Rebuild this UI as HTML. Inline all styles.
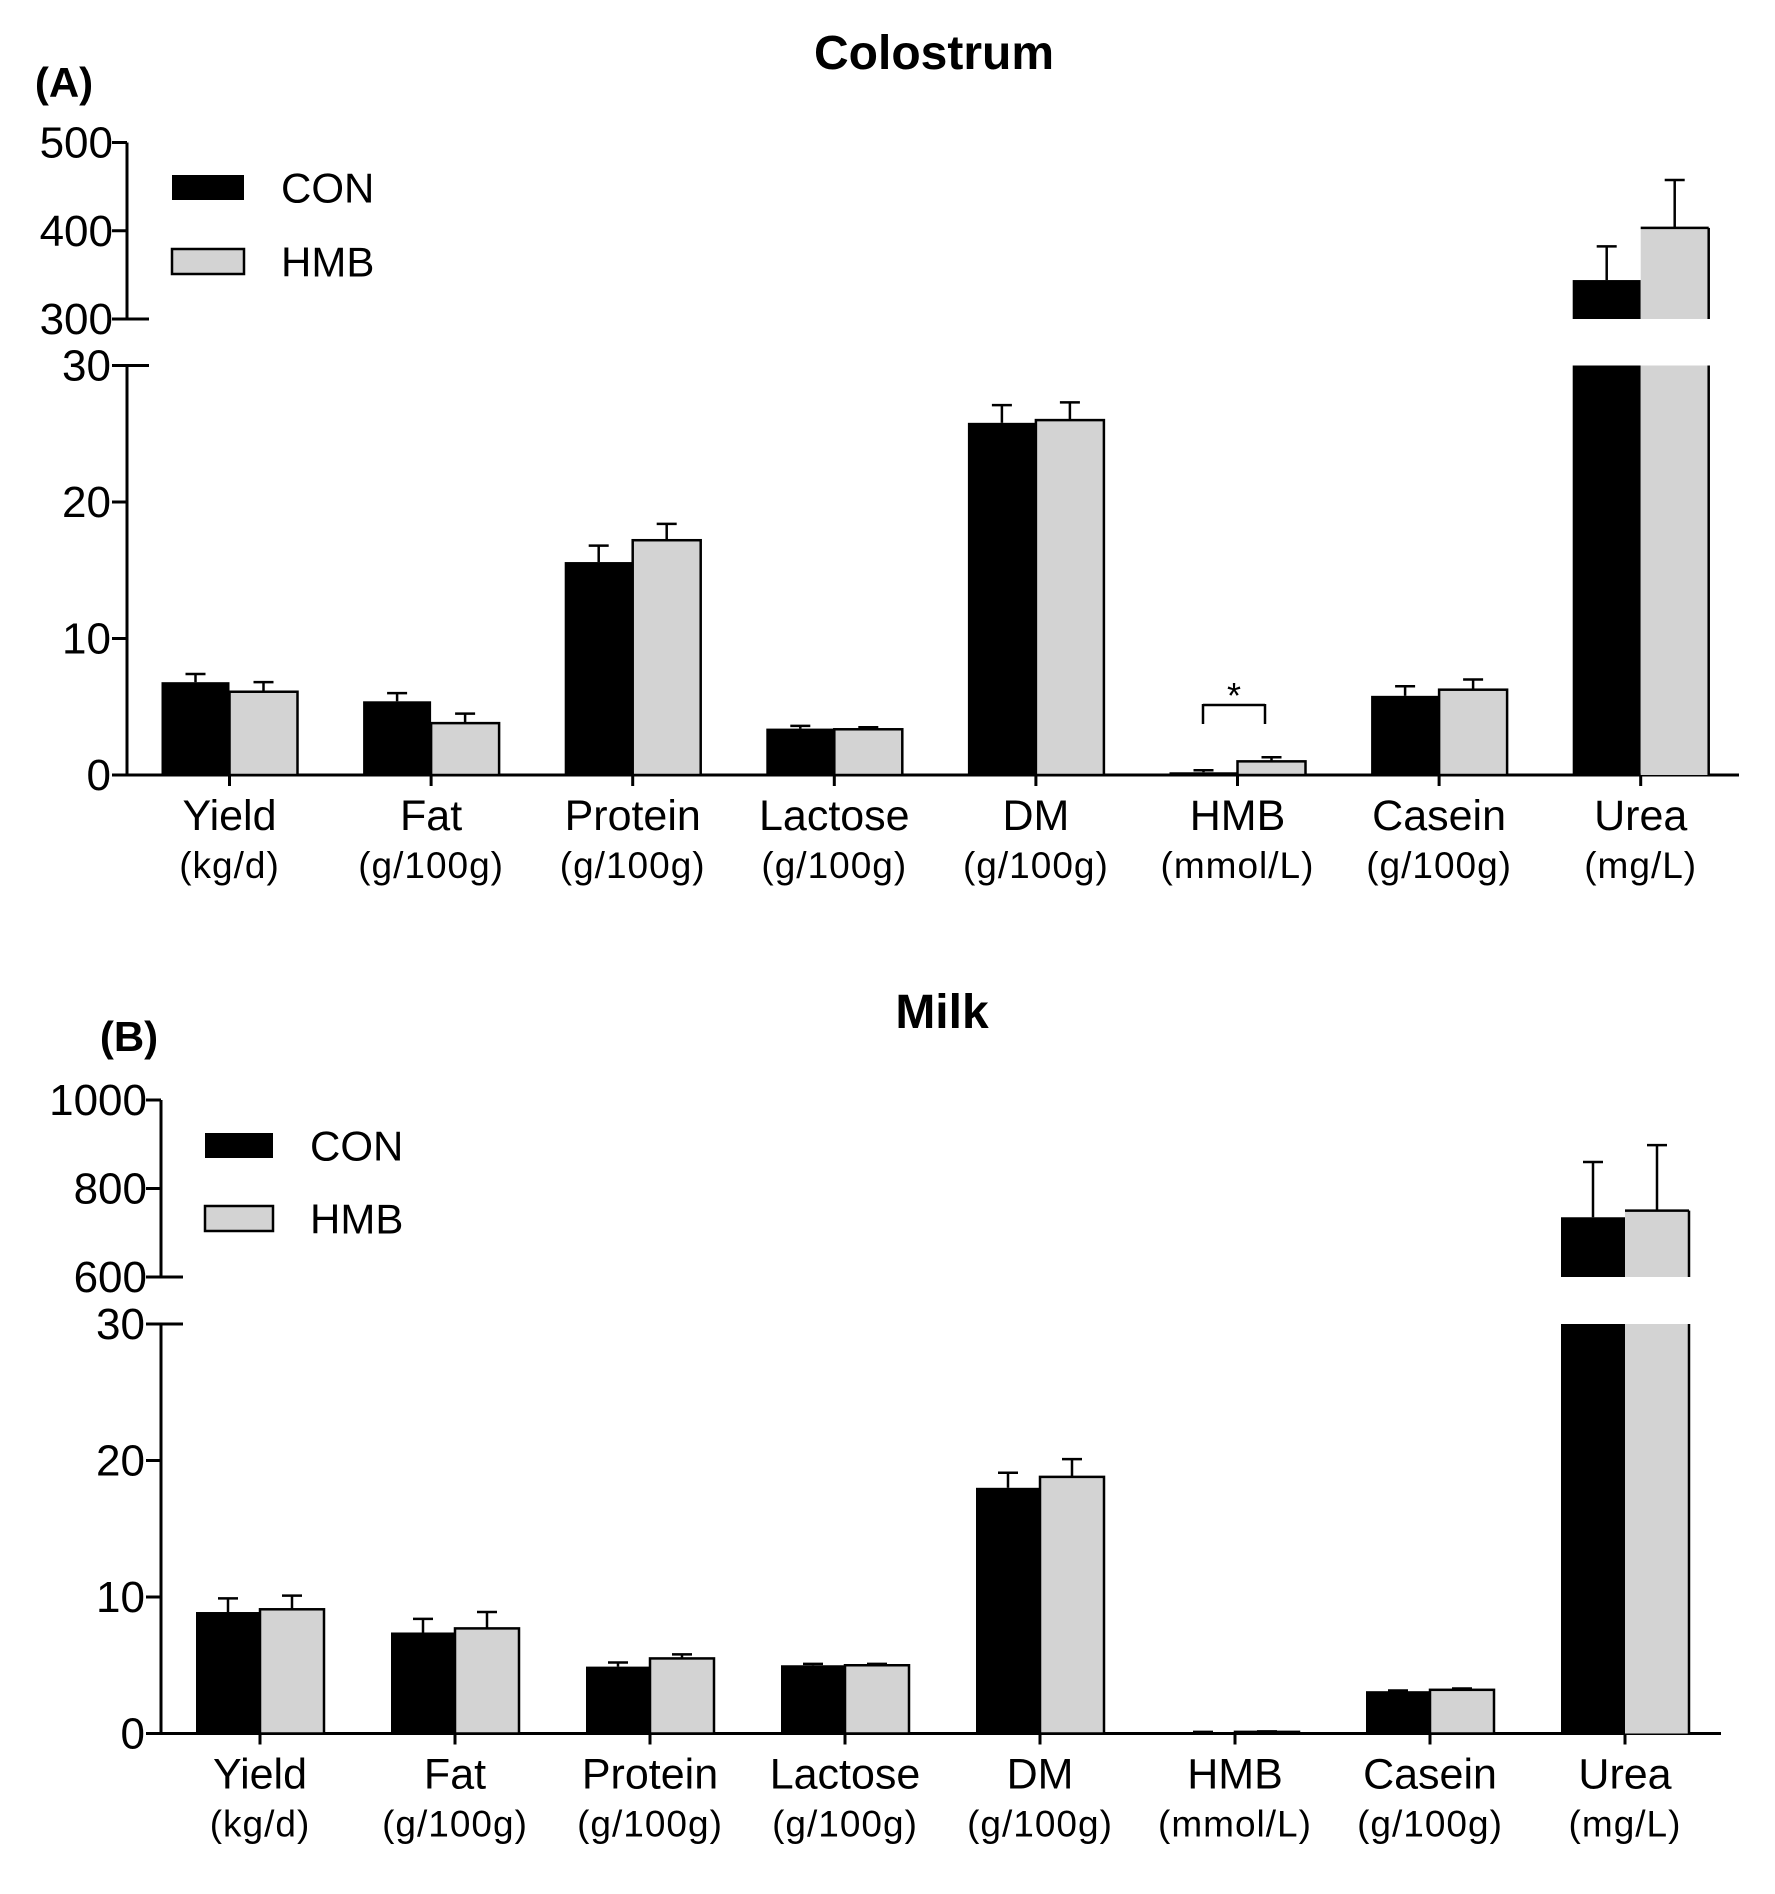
<!DOCTYPE html>
<html><head><meta charset="utf-8"><style>
html,body{margin:0;padding:0;background:#fff;}
svg{display:block;}
text{font-family:"Liberation Sans",Arial,sans-serif;fill:#000;}
</style></head><body>
<svg id="s" width="1775" height="1894" xmlns="http://www.w3.org/2000/svg"></svg>
<script>
const S=document.getElementById('s');let h='';
function L(x1,y1,x2,y2,w){h+=`<line x1="${x1}" y1="${y1}" x2="${x2}" y2="${y2}" stroke="#000" stroke-width="${w||3}"/>`;}
function R(x,y,w,hh,f){h+=`<rect x="${x}" y="${y}" width="${w}" height="${hh}" fill="${f}" ${f=='#000'?'':'stroke="#000" stroke-width="2.5"'}/>`;}
function T(x,y,s,t,a,b,ls){h+=`<text x="${x}" y="${y}" font-size="${s}" text-anchor="${a||'middle'}" ${b?'font-weight="bold"':''} ${ls?'letter-spacing="'+ls+'"':''}>${t}</text>`;}
function panel(P){
 const ax=P.ax,y0=P.y0,u=P.unit,top30=y0-30*u;
 L(ax,P.upTop,ax,P.upBot);L(ax,top30,ax,y0);L(ax-1,y0,P.xEnd,y0);
 [[0,y0],[10,y0-10*u],[20,y0-20*u]].forEach(t=>{L(ax-15,t[1],ax,t[1]);T(ax-16,t[1]+15,44,t[0],'end');});
 L(ax-15,top30,ax+22,top30);T(ax-16,top30+15,44,30,'end');
 P.upTicks.forEach((v,i)=>{const y=P.upTop+(P.upBot-P.upTop)*i/2;if(i<2)L(ax-15,y,ax,y);else L(ax-15,y,ax+22,y);T(ax-14,y+15,44,v,'end');});
 const cats=[['Yield','(kg/d)'],['Fat','(g/100g)'],['Protein','(g/100g)'],['Lactose','(g/100g)'],['DM','(g/100g)'],['HMB','(mmol/L)'],['Casein','(g/100g)'],['Urea','(mg/L)']];
 cats.forEach((c,i)=>{
  const cx=P.c0+P.sp*i;L(cx,y0,cx,y0+11);
  T(cx,y0+55,43,c[0]);T(cx,y0+103,37,c[1],'middle',0,1);
  const d=P.data[i];
  [0,1].forEach(k=>{
   const x=k?cx:cx-P.bw,v=d[k*2],e=d[k*2+1],f=k?'#d3d3d3':'#000';
   if(i<7){const yt=y0-v*u,ye=y0-e*u;R(x,yt,P.bw,y0-yt,f);L(x+P.bw/2,yt,x+P.bw/2,ye,2.5);L(x+P.bw/2-10,ye,x+P.bw/2+10,ye,2.5);}
   else{h+=`<rect x="${x}" y="${top30}" width="${P.bw}" height="${y0-top30}" fill="${f}"/>`;
    const yt=P.upBot-(v-P.upMin)*P.uu,ye=P.upBot-(e-P.upMin)*P.uu;
    h+=`<rect x="${x}" y="${yt}" width="${P.bw}" height="${P.upBot-yt}" fill="${f}"/>`;
    if(k){L(x,yt,x+P.bw,yt,2.5);L(x+P.bw,yt,x+P.bw,P.upBot,2.5);L(x+P.bw,top30,x+P.bw,y0,2.5);}
    L(x+P.bw/2,yt,x+P.bw/2,ye,2.5);L(x+P.bw/2-10,ye,x+P.bw/2+10,ye,2.5);}
  });
 });
 R(P.lx,P.ly1,P.lw,P.lh,'#000');R(P.lx,P.ly2,P.lw,P.lh,'#d3d3d3');
 T(P.tx,P.ly1+P.lh/2+15,42,'CON','start');T(P.tx,P.ly2+P.lh/2+15,42,'HMB','start');
}
panel({ax:127,y0:775,unit:13.65,xEnd:1739,upTop:142.5,upBot:319,upMin:300,uu:0.885,upTicks:[500,400,300],
 c0:229.5,sp:201.6,bw:68,lx:172,ly1:175,ly2:249,lw:72,lh:25,tx:281,
 data:[[6.8,7.4,6.1,6.8],[5.4,6.0,3.8,4.5],[15.6,16.8,17.2,18.4],[3.4,3.6,3.35,3.5],[25.8,27.1,26.0,27.3],[0.2,0.35,1.0,1.3],[5.8,6.5,6.25,7.0],[344,382,403,457]]});
panel({ax:161,y0:1733.5,unit:13.65,xEnd:1721,upTop:1100,upBot:1277,upMin:600,uu:0.4425,upTicks:[1000,800,600],
 c0:260,sp:195,bw:64,lx:205,ly1:1133,ly2:1206,lw:68,lh:25,tx:310,
 data:[[8.9,9.9,9.1,10.1],[7.4,8.4,7.7,8.9],[4.9,5.2,5.5,5.8],[5.0,5.1,5.0,5.1],[18.0,19.1,18.8,20.1],[0.08,0.12,0.12,0.16],[3.1,3.15,3.2,3.3],[735,860,750,898]]});
L(1203,705,1265,705,2.5);L(1203,704,1203,724,2.5);L(1265,704,1265,724,2.5);T(1234,708,36,'*');
T(934,69,48,'Colostrum','middle',1);T(64,97,42,'(A)','middle',1);
T(942,1028,48,'Milk','middle',1);T(129,1051,42,'(B)','middle',1);
S.innerHTML=h;
</script>
</body></html>
